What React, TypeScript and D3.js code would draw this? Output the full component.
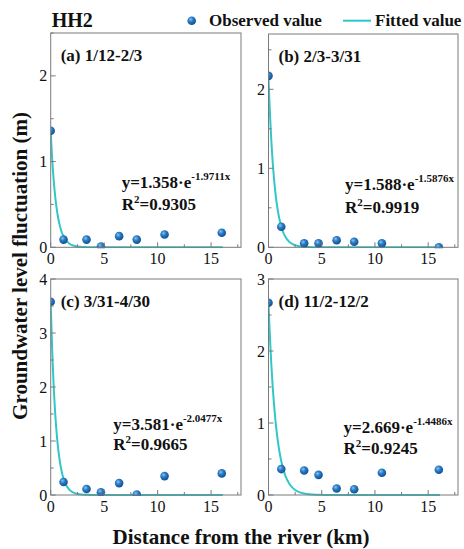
import React from 'react';
import * as d3 from 'd3';

// ---------- data ----------
const distances = [0, 1.2, 3.35, 4.7, 6.4, 8.05, 10.65, 16.0];
const obsA = [1.36, 0.09, 0.09, 0.01, 0.13, 0.09, 0.15, 0.17];
const obsB = [2.17, 0.26, 0.05, 0.05, 0.09, 0.07, 0.05, 0.0];
const obsC = [3.58, 0.24, 0.11, 0.05, 0.22, 0.01, 0.35, 0.4];
const obsD = [2.67, 0.36, 0.34, 0.28, 0.09, 0.08, 0.31, 0.35];
const panelTitles = ['(a) 1/12-2/3', '(b) 2/3-3/31', '(c) 3/31-4/30', '(d) 11/2-12/2'];
const eqAmplitudeText = ['1.358', '1.588', '3.581', '2.669'];
const eqRateText = ['-1.9711x', '-1.5876x', '-2.0477x', '-1.4486x'];
const r2Text = ['0.9305', '0.9919', '0.9665', '0.9245'];
const curveAmplitude = [1.358, 2.15, 3.581, 2.669];
const curveRate = [1.9711, 1.75, 2.0477, 1.4486];
const curveEnd = 16.1;
const yMaxes = [2.5, 2.7, 4, 3];
const xTicks = [0, 5, 10, 15];
const xMinorTicks = [2.5, 7.5, 12.5, 17.5];
const xMax = 17.8;

const observed = [obsA, obsB, obsC, obsD];

// ---------- layout ----------
const FONT = "'Liberation Serif','Times New Roman',serif";
const panels = [
  { left: 50.7, right: 241, top: 33, bottom: 247.3, eqX: 71, eqY: 155, r2Gap: 22 },
  { left: 268.5, right: 458, top: 34, bottom: 247.3, eqX: 76.5, eqY: 156, r2Gap: 23 },
  { left: 50.7, right: 241, top: 279, bottom: 495, eqX: 62.6, eqY: 151, r2Gap: 20 },
  { left: 268.5, right: 458, top: 279, bottom: 495, eqX: 75, eqY: 154, r2Gap: 21 },
];
const AXIS = '#7a7a7a';
const LINE = '#33c6c8';

function Panel({ i }: { i: number }) {
  const p = panels[i];
  const x = d3.scaleLinear().domain([0, xMax]).range([p.left, p.right]);
  const y = d3.scaleLinear().domain([0, yMaxes[i]]).range([p.bottom, p.top]);
  const yMajor = d3.range(0, yMaxes[i] + 1e-9, 1);
  const yMinor = d3.range(0.5, yMaxes[i] + 1e-9, 1);
  const samples = d3.range(0, curveEnd + 1e-9, 0.05);
  const line = d3
    .line<number>()
    .x((d) => x(d))
    .y((d) => y(curveAmplitude[i] * Math.exp(-curveRate[i] * d)))
    .curve(d3.curveLinear);
  const clipId = `clip${i}`;
  return (
    <g>
      <defs>
        <clipPath id={clipId}>
          <rect x={p.left} y={p.top} width={p.right - p.left} height={p.bottom - p.top + 1} />
        </clipPath>
      </defs>
      <g clipPath={`url(#${clipId})`}>
        <path d={line(samples) || ''} fill="none" stroke={LINE} strokeWidth={2} />
        {distances.map((d, k) => (
          <circle key={k} cx={x(d)} cy={y(observed[i][k])} r={4.3} fill="url(#ballGrad)" />
        ))}
      </g>
      <rect x={p.left} y={p.top} width={p.right - p.left} height={p.bottom - p.top} fill="none" stroke={AXIS} strokeWidth={1} />
      {xTicks.map((t) => (
        <g key={'xt' + t}>
          <line x1={x(t)} x2={x(t)} y1={p.bottom} y2={p.bottom - 5} stroke={AXIS} />
          <text x={x(t)} y={p.bottom + 16.5} textAnchor="middle" fontSize={16} fontFamily={FONT} fill="#111">
            {t}
          </text>
        </g>
      ))}
      {xMinorTicks.map((t) => (
        <line key={'xm' + t} x1={x(t)} x2={x(t)} y1={p.bottom} y2={p.bottom - 3} stroke={AXIS} />
      ))}
      {yMajor.map((t) => (
        <g key={'yt' + t}>
          <line x1={p.left} x2={p.left + 5} y1={y(t)} y2={y(t)} stroke={AXIS} />
          <text x={p.left - 3.5} y={y(t)} dy="0.35em" textAnchor="end" fontSize={16} fontFamily={FONT} fill="#111">
            {t}
          </text>
        </g>
      ))}
      {yMinor.map((t) => (
        <line key={'ym' + t} x1={p.left} x2={p.left + 3} y1={y(t)} y2={y(t)} stroke={AXIS} />
      ))}
      <text x={p.left + 10} y={p.top + 28} fontSize={17} fontWeight="bold" fontFamily={FONT} fill="#111">
        {panelTitles[i]}
      </text>
      <text x={p.left + p.eqX} y={p.top + p.eqY} fontSize={17} fontWeight="bold" fontFamily={FONT} fill="#111">
        {`y=${eqAmplitudeText[i]}·e`}
        <tspan fontSize={11} dy={-8}>
          {eqRateText[i]}
        </tspan>
      </text>
      <text x={p.left + p.eqX} y={p.top + p.eqY + p.r2Gap} fontSize={17} fontWeight="bold" fontFamily={FONT} fill="#111">
        R<tspan fontSize={11} dy={-7}>2</tspan>
        <tspan dy={7}>{`=${r2Text[i]}`}</tspan>
      </text>
    </g>
  );
}

export default function App() {
  return (
    <svg
      width={464}
      height={549}
      style={{ position: 'absolute', left: 0, top: 0, background: '#fff' }}
      fontFamily={FONT}
    >
      <defs>
        <radialGradient id="ballGrad" cx="38%" cy="35%" r="70%">
          <stop offset="0%" stopColor="#8cc4ee" />
          <stop offset="40%" stopColor="#2a7cc6" />
          <stop offset="100%" stopColor="#0d4d8f" />
        </radialGradient>
      </defs>
      <rect x={0} y={0} width={464} height={549} fill="#fff" />
      {[0, 1, 2, 3].map((i) => (
        <Panel key={i} i={i} />
      ))}
      {/* header & legend */}
      <text x={51.7} y={27} fontSize={20} fontWeight="bold" fill="#111">HH2</text>
      <circle cx={191.7} cy={20.7} r={4.3} fill="url(#ballGrad)" />
      <text x={209} y={26} fontSize={17} fontWeight="bold" fill="#111">Observed value</text>
      <line x1={343} x2={371} y1={20.7} y2={20.7} stroke={LINE} strokeWidth={2} />
      <text x={375} y={26} fontSize={17} fontWeight="bold" fill="#111">Fitted value</text>
      {/* axis titles */}
      <text x={241} y={544} textAnchor="middle" fontSize={21} fontWeight="bold" fill="#111">
        Distance from the river (km)
      </text>
      <text
        transform="translate(27,266) rotate(-90)"
        textAnchor="middle"
        fontSize={21}
        fontWeight="bold"
        fill="#111"
      >
        Groundwater level fluctuation (m)
      </text>
    </svg>
  );
}
